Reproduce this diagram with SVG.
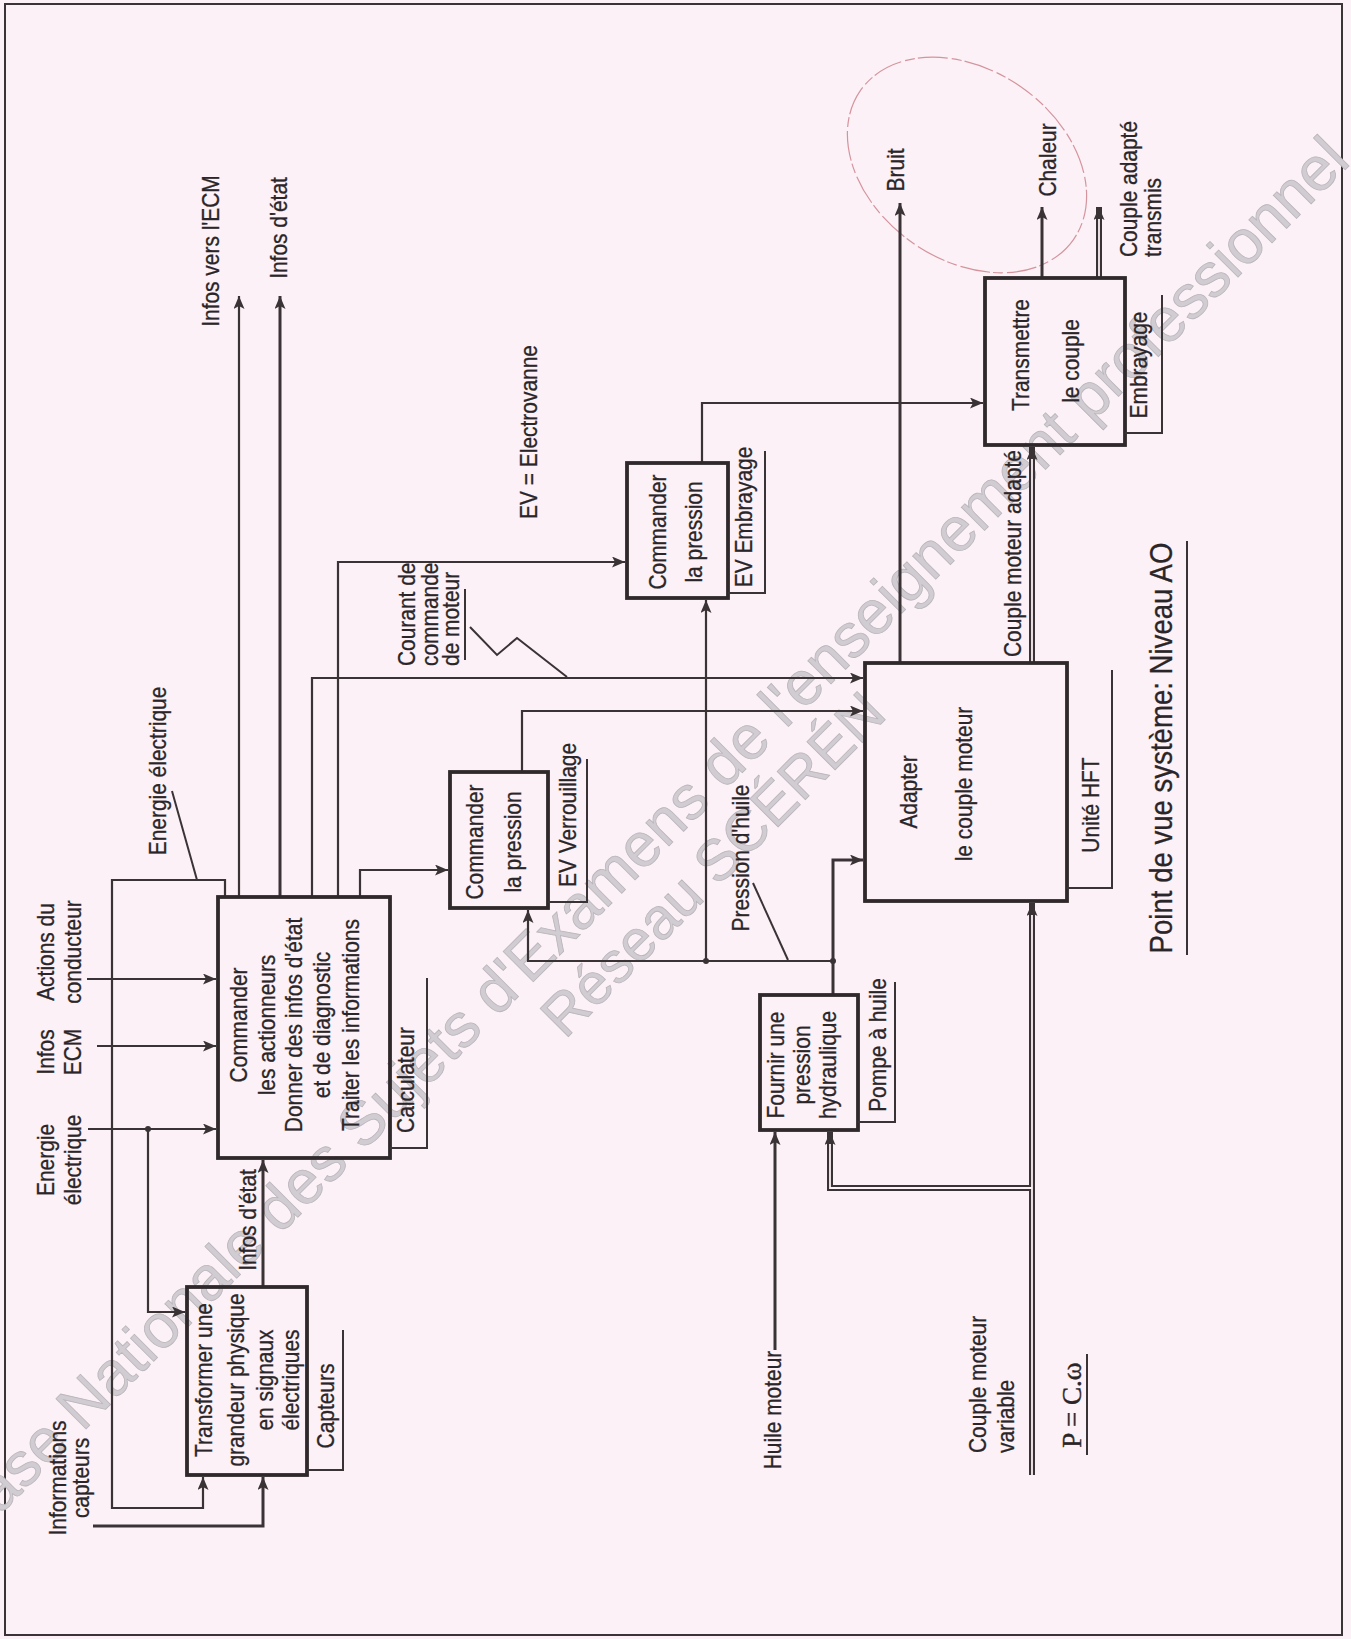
<svg xmlns="http://www.w3.org/2000/svg" width="1351" height="1639" viewBox="0 0 1351 1639">
<defs>
<style>
.t{font-family:"Liberation Sans",Arial,sans-serif;font-size:23px;fill:#2a2528;stroke:#2a2528;stroke-width:0.3}
.tl{font-family:"Liberation Sans",Arial,sans-serif;font-size:31px;fill:#2a2528;stroke:#2a2528;stroke-width:0.3}
.ts{font-family:"Liberation Serif","Times New Roman",serif;font-size:27px;fill:#2a2528;stroke:#2a2528;stroke-width:0.4}
.box{fill:none;stroke:#2f292c;stroke-width:3.8}
.ln{fill:none;stroke:#3a3336;stroke-width:2.2}
.thk{stroke-width:3}
.br{fill:none;stroke:#3a3336;stroke-width:2}
.dbo{fill:none;stroke:#3a3336;stroke-width:6}
.dbi{fill:none;stroke:#fcf1f6;stroke-width:1.8}
.wm{font-family:"Liberation Sans",Arial,sans-serif;fill:#d0ccd1;stroke:#b9b5ba;stroke-width:0.8}
.dot{fill:#3a3336}
</style>
<marker id="ah" markerWidth="14" markerHeight="11" refX="13" refY="5.5" orient="auto" markerUnits="userSpaceOnUse">
<path d="M0,0 L13,5.5 L0,11 L3,5.5 z" fill="#3a3336"/>
</marker>
</defs>
<rect x="0" y="0" width="1351" height="1639" fill="#fcf1f6"/>
<rect x="5" y="4" width="1337" height="1631" fill="none" stroke="#3b3437" stroke-width="2"/>

<g id="watermark">
<text class="wm" font-size="62" text-anchor="end" transform="translate(1352,163) rotate(-45)">Base Nationale des Sujets d'Examens de l'enseignement professionnel</text>
<text class="wm" font-size="58" text-anchor="start" transform="translate(565,1040) rotate(-45)">Réseau SCÉRÉN</text>
</g>

<ellipse cx="967" cy="165" rx="130" ry="95" transform="rotate(35 967 165)" fill="none" stroke="#d4949e" stroke-width="1.2" stroke-dasharray="30 4 10 3"/>

<g id="connectors">
<path class="ln" d="M87,979 H216" marker-end="url(#ah)"/>
<path class="ln" d="M97,1046 H216" marker-end="url(#ah)"/>
<path class="ln" d="M88,1129 H216" marker-end="url(#ah)"/>
<path class="ln" d="M148,1129 V1312 H185" marker-end="url(#ah)"/>
<path class="ln" d="M225,897 V880 H112 V1508 H203 V1477" marker-end="url(#ah)"/>
<path class="ln thk" d="M93,1526 H263 V1477" marker-end="url(#ah)"/>
<path class="ln thk" d="M263,1287 V1160" marker-end="url(#ah)"/>
<path class="ln" d="M239,897 V296" marker-end="url(#ah)"/>
<path class="ln thk" d="M280,897 V296" marker-end="url(#ah)"/>
<path class="ln" d="M312,897 V678 H863" marker-end="url(#ah)"/>
<path class="ln" d="M338,897 V562 H625" marker-end="url(#ah)"/>
<path class="ln" d="M360,897 V870 H448" marker-end="url(#ah)"/>
<path class="ln" d="M522,772 V711 H863" marker-end="url(#ah)"/>
<path class="ln thk" d="M833,995 V860 H863" marker-end="url(#ah)"/>
<path class="ln" d="M833,961 H528 V910" marker-end="url(#ah)"/>
<path class="ln" d="M706,961 V600" marker-end="url(#ah)"/>
<path class="ln" d="M702,463 V403 H983" marker-end="url(#ah)"/>
<path class="ln thk" d="M900,663 V203" marker-end="url(#ah)"/>
<path class="ln thk" d="M1042,278 V207" marker-end="url(#ah)"/>
<path class="ln thk" d="M775,1350 V1132" marker-end="url(#ah)"/>
<path class="dbo" d="M1099,278 V207" marker-end="url(#ah)"/>
<path class="dbo" d="M1032,663 V447" marker-end="url(#ah)"/>
<path class="dbo" d="M1032,1475 V903" marker-end="url(#ah)"/>
<path class="dbo" d="M1032,1188 H830 V1132" marker-end="url(#ah)"/>
<path class="dbi" d="M1099,278 V219"/>
<path class="dbi" d="M1032,663 V459"/>
<path class="dbi" d="M1032,1476 V915"/>
<path class="dbi" d="M1032,1188 H830 V1144"/>
<circle class="dot" cx="148" cy="1129" r="3"/>
<circle class="dot" cx="706" cy="961" r="3"/>
<circle class="dot" cx="833" cy="961" r="3"/>
<path class="br" d="M172,791 L197,880"/>
<path class="br" d="M470,627 L497,655 L517,638 L567,677"/>
<path class="br" d="M753,883 L788,960"/>
</g>

<g id="nodeA">
<rect class="box" x="187" y="1287" width="120" height="188"/>
<text class="t" text-anchor="middle" transform="translate(211.5,1380) rotate(-90) scale(0.91,1)">Transformer une</text>
<text class="t" text-anchor="middle" transform="translate(243.5,1380) rotate(-90) scale(0.91,1)">grandeur physique</text>
<text class="t" text-anchor="middle" transform="translate(272.5,1380) rotate(-90) scale(0.91,1)">en signaux</text>
<text class="t" text-anchor="middle" transform="translate(299,1380) rotate(-90) scale(0.91,1)">électriques</text>
<path class="br" d="M307,1470 H343 V1330"/>
<text class="t" text-anchor="middle" transform="translate(333.5,1406) rotate(-90) scale(0.91,1)">Capteurs</text>
</g>

<g id="nodeB">
<rect class="box" x="218" y="897" width="172" height="261"/>
<text class="t" text-anchor="middle" transform="translate(246.5,1025) rotate(-90) scale(0.91,1)">Commander</text>
<text class="t" text-anchor="middle" transform="translate(274.5,1025) rotate(-90) scale(0.91,1)">les actionneurs</text>
<text class="t" text-anchor="middle" transform="translate(301.5,1025) rotate(-90) scale(0.91,1)">Donner des infos d'état</text>
<text class="t" text-anchor="middle" transform="translate(329.5,1025) rotate(-90) scale(0.91,1)">et de diagnostic</text>
<text class="t" text-anchor="middle" transform="translate(358.5,1025) rotate(-90) scale(0.91,1)">Traiter les informations</text>
<path class="br" d="M390,1148 H427 V978"/>
<text class="t" text-anchor="middle" transform="translate(413.5,1080) rotate(-90) scale(0.91,1)">Calculateur</text>
</g>

<g id="nodeC">
<rect class="box" x="450" y="772" width="98" height="136"/>
<text class="t" text-anchor="middle" transform="translate(482.5,842) rotate(-90) scale(0.91,1)">Commander</text>
<text class="t" text-anchor="middle" transform="translate(520.5,842) rotate(-90) scale(0.91,1)">la pression</text>
<path class="br" d="M548,902 H587 V759"/>
<text class="t" text-anchor="middle" transform="translate(575.5,815) rotate(-90) scale(0.91,1)">EV Verrouillage</text>
</g>

<g id="nodeD">
<rect class="box" x="627" y="463" width="101" height="135"/>
<text class="t" text-anchor="middle" transform="translate(665.5,532) rotate(-90) scale(0.91,1)">Commander</text>
<text class="t" text-anchor="middle" transform="translate(701.5,532) rotate(-90) scale(0.91,1)">la pression</text>
<path class="br" d="M728,593 H765 V451"/>
<text class="t" text-anchor="middle" transform="translate(751.5,517) rotate(-90) scale(0.91,1)">EV Embrayage</text>
</g>

<g id="nodeE">
<rect class="box" x="865" y="663" width="202" height="238"/>
<text class="t" text-anchor="middle" transform="translate(916.5,792) rotate(-90) scale(0.91,1)">Adapter</text>
<text class="t" text-anchor="middle" transform="translate(971.5,784) rotate(-90) scale(0.91,1)">le couple moteur</text>
<path class="br" d="M1067,888 H1112 V670"/>
<text class="t" text-anchor="middle" transform="translate(1098.5,805) rotate(-90) scale(0.91,1)">Unité HFT</text>
</g>

<g id="nodeF">
<rect class="box" x="760" y="995" width="98" height="135"/>
<text class="t" text-anchor="middle" transform="translate(783.5,1065) rotate(-90) scale(0.91,1)">Fournir une</text>
<text class="t" text-anchor="middle" transform="translate(809.5,1065) rotate(-90) scale(0.91,1)">pression</text>
<text class="t" text-anchor="middle" transform="translate(836,1065) rotate(-90) scale(0.91,1)">hydraulique</text>
<path class="br" d="M858,1122 H895 V982"/>
<text class="t" text-anchor="middle" transform="translate(885.5,1045) rotate(-90) scale(0.91,1)">Pompe à huile</text>
</g>

<g id="nodeG">
<rect class="box" x="985" y="278" width="140" height="167"/>
<text class="t" text-anchor="middle" transform="translate(1028.5,355) rotate(-90) scale(0.91,1)">Transmettre</text>
<text class="t" text-anchor="middle" transform="translate(1078.5,361) rotate(-90) scale(0.91,1)">le couple</text>
<path class="br" d="M1125,433 H1162 V295"/>
<text class="t" text-anchor="middle" transform="translate(1146.5,365) rotate(-90) scale(0.91,1)">Embrayage</text>
</g>

<g id="labels">
<text class="t" text-anchor="middle" transform="translate(218.5,251) rotate(-90) scale(0.91,1)">Infos vers l'ECM</text>
<text class="t" text-anchor="middle" transform="translate(286.5,228) rotate(-90) scale(0.91,1)">Infos d'état</text>
<text class="t" text-anchor="middle" transform="translate(536.5,432) rotate(-90) scale(0.91,1)">EV = Electrovanne</text>
<text class="t" text-anchor="start" transform="translate(415,666) rotate(-90) scale(0.91,1)">Courant de</text>
<text class="t" text-anchor="start" transform="translate(438,666) rotate(-90) scale(0.91,1)">commande</text>
<text class="t" text-anchor="start" transform="translate(459,666) rotate(-90) scale(0.91,1)">de moteur</text>
<path class="br" d="M465,660 V589"/>
<text class="t" text-anchor="middle" transform="translate(165.5,771) rotate(-90) scale(0.91,1)">Energie électrique</text>
<text class="t" text-anchor="middle" transform="translate(903.5,170) rotate(-90) scale(0.91,1)">Bruit</text>
<text class="t" text-anchor="middle" transform="translate(1055.5,160) rotate(-90) scale(0.91,1)">Chaleur</text>
<text class="t" text-anchor="start" transform="translate(1136.5,257) rotate(-90) scale(0.91,1)">Couple adapté</text>
<text class="t" text-anchor="start" transform="translate(1160.5,257) rotate(-90) scale(0.91,1)">transmis</text>
<text class="t" text-anchor="start" transform="translate(1020.5,657) rotate(-90) scale(0.91,1)">Couple moteur adapté</text>
<text class="tl" text-anchor="middle" transform="translate(1172,748) rotate(-90) scale(0.89,1)">Point de vue système: Niveau AO</text>
<path class="br" d="M1187,541 V955"/>
<text class="t" text-anchor="middle" transform="translate(748.5,858) rotate(-90) scale(0.91,1)">Pression d'huile</text>
<text class="t" text-anchor="middle" transform="translate(780.5,1410) rotate(-90) scale(0.91,1)">Huile moteur</text>
<text class="t" text-anchor="start" transform="translate(985.5,1453) rotate(-90) scale(0.91,1)">Couple moteur</text>
<text class="t" text-anchor="start" transform="translate(1013.5,1453) rotate(-90) scale(0.91,1)">variable</text>
<text class="ts" text-anchor="middle" transform="translate(1081,1405) rotate(-90)">P = C.ω</text>
<path class="br" d="M1087,1354 V1455"/>
<text class="t" text-anchor="middle" transform="translate(65.5,1478) rotate(-90) scale(0.91,1)">Informations</text>
<text class="t" text-anchor="middle" transform="translate(88.5,1478) rotate(-90) scale(0.91,1)">capteurs</text>
<text class="t" text-anchor="middle" transform="translate(53.5,952) rotate(-90) scale(0.91,1)">Actions du</text>
<text class="t" text-anchor="middle" transform="translate(80.5,952) rotate(-90) scale(0.91,1)">conducteur</text>
<text class="t" text-anchor="middle" transform="translate(53.5,1052) rotate(-90) scale(0.91,1)">Infos</text>
<text class="t" text-anchor="middle" transform="translate(80.5,1052) rotate(-90) scale(0.91,1)">ECM</text>
<text class="t" text-anchor="middle" transform="translate(53.5,1160) rotate(-90) scale(0.91,1)">Energie</text>
<text class="t" text-anchor="middle" transform="translate(80.5,1160) rotate(-90) scale(0.91,1)">électrique</text>
<text class="t" text-anchor="middle" transform="translate(255.5,1220) rotate(-90) scale(0.91,1)">Infos d'état</text>
</g>
</svg>
